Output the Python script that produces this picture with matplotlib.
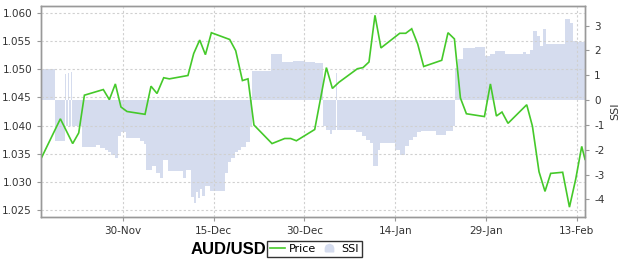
import matplotlib
matplotlib.use('Agg')
import matplotlib.pyplot as plt
import matplotlib.dates as mdates
import matplotlib.ticker as mticker
import pandas as pd
from matplotlib.lines import Line2D

plt.rcParams['axes.unicode_minus'] = False
plt.rcParams['font.family'] = ['DejaVu Sans']

# ---------------- data ----------------
price_dates = [
    '2012-11-16 10:50', '2012-11-19 15:40', '2012-11-21 16:30', '2012-11-22 16:30',
    '2012-11-23 15:00', '2012-11-26 18:00', '2012-11-27 18:00', '2012-11-28 17:45',
    '2012-11-29 16:00', '2012-11-30 16:00', '2012-12-03 15:30', '2012-12-04 15:10',
    '2012-12-05 15:00', '2012-12-06 17:30', '2012-12-07 16:00', '2012-12-10 17:45',
    '2012-12-11 16:30', '2012-12-12 16:20', '2012-12-13 15:00', '2012-12-14 14:40',
    '2012-12-17 15:20', '2012-12-18 15:10', '2012-12-19 17:45', '2012-12-20 15:50',
    '2012-12-21 15:30', '2012-12-24 15:10', '2012-12-26 17:30', '2012-12-27 17:15',
    '2012-12-28 15:50', '2012-12-31 16:30', '2013-01-02 14:50', '2013-01-03 14:40',
    '2013-01-04 16:50', '2013-01-07 17:45', '2013-01-08 16:05', '2013-01-09 15:50',
    '2013-01-10 15:35', '2013-01-11 15:20', '2013-01-14 17:45', '2013-01-15 17:30',
    '2013-01-16 17:15', '2013-01-17 17:00', '2013-01-18 16:50', '2013-01-21 16:20',
    '2013-01-22 17:15', '2013-01-23 18:40', '2013-01-24 18:30', '2013-01-25 18:15',
    '2013-01-28 17:45', '2013-01-29 17:30', '2013-01-30 17:15', '2013-01-31 15:20',
    '2013-02-01 15:20', '2013-02-04 17:30', '2013-02-05 16:05', '2013-02-06 18:15',
    '2013-02-07 18:00', '2013-02-08 16:30', '2013-02-10 16:05', '2013-02-11 19:00',
    '2013-02-12 19:55', '2013-02-13 19:40', '2013-02-14 08:40',
]
price_values = [
    1.0341, 1.0412, 1.0368, 1.0387, 1.0454, 1.0464, 1.0446, 1.0474,
    1.0433, 1.0425, 1.0420, 1.0470, 1.0457, 1.0485, 1.0483, 1.0489,
    1.0528, 1.0552, 1.0526, 1.0565, 1.0553, 1.0533, 1.0480, 1.0483,
    1.0401, 1.0368, 1.0377, 1.0377, 1.0373, 1.0393, 1.0503, 1.0466,
    1.0477, 1.0501, 1.0503, 1.0513, 1.0596, 1.0538, 1.0564, 1.0564,
    1.0572, 1.0545, 1.0505, 1.0516, 1.0565, 1.0554, 1.0449, 1.0421,
    1.0416, 1.0474, 1.0417, 1.0424, 1.0404, 1.0437, 1.0399, 1.0318,
    1.0283, 1.0315, 1.0317, 1.0255, 1.0305, 1.0363, 1.0340,
]

ssi_start = '2012-11-16 00:00'
ssi_days = [
    0.45, 2.71, 4.36, 4.48, 4.64, 4.98, 5.14, 5.36, 5.64, 7.29, 9.60, 10.15,
    10.98, 11.47, 12.08, 12.63, 13.17, 13.74, 14.56, 16.76, 17.42, 17.87, 18.74,
    19.40, 20.07, 20.61, 21.39, 23.87, 24.48, 25.31, 25.69, 26.02, 26.35, 26.68,
    27.01, 27.50, 28.33, 30.81, 31.36, 31.80, 32.46, 32.96, 33.57, 34.28, 34.94,
    35.27, 38.41, 40.35, 42.10, 44.03, 45.69, 47.06, 47.50, 48.17, 48.50, 49.16,
    49.44, 52.58, 53.45, 54.12, 54.78, 55.32, 56.15, 56.43, 58.91, 59.74, 60.56,
    61.22, 61.93, 62.55, 63.32, 65.80, 67.45, 68.55, 68.91, 69.37, 70.20, 72.13,
    73.79, 74.61, 75.44, 77.09, 80.12, 80.56, 81.22, 81.77, 82.38, 82.88, 83.42,
    83.98, 87.01, 87.83, 88.38, 89.21, 90.31,
]
ssi_values = [
    1.27, -1.66, -1.05, 1.04, -1.05, 1.10, -1.05, 1.12, -1.05, -1.89, -1.80, -1.95,
    -2.00, -2.10, -2.20, -2.33, -1.46, -1.30, -1.52, -1.65, -1.75, -2.80, -2.65,
    -2.95, -3.14, -2.40, -2.87, -3.13, -2.80, -3.90, -4.15, -3.70, -3.95, -3.60,
    -3.85, -3.48, -3.68, -2.93, -2.50, -2.35, -2.10, -2.00, -1.87, -1.70, -1.05,
    1.17, 1.85, 1.54, 1.58, 1.55, 1.50, -1.05, -1.20, -1.35, -1.19, 1.11,
    -1.19, -1.30, -1.45, -1.60, -1.73, -2.67, -2.00, -1.73, -2.00, -2.20, -1.85,
    -1.60, -1.50, -1.30, -1.25, -1.40, -1.25, -1.05, 1.30, 1.65, 2.08, 2.12,
    1.78, 1.85, 1.98, 1.85, 1.92, 1.85, 2.00, 2.80, 2.60, 2.19, 2.86,
    2.25, 3.27, 3.10, 2.39, 2.32, 2.32,
]

price_ticks = [1.025, 1.030, 1.035, 1.040, 1.045, 1.050, 1.055, 1.060]
ssi_ticks = [-4, -3, -2, -1, 0, 1, 2, 3]
date_ticks = ['2012-11-30', '2012-12-15', '2012-12-30', '2013-01-14', '2013-01-29', '2013-02-13']

title_text = 'AUD/USD'
series_names = ['Price', 'SSI']

# ---------------- style ----------------
green = '#45c92a'
fill = '#d5dcee'
tick_color = '#333333'
spine_color = '#999999'

pt = pd.to_datetime(price_dates)
st = pd.Timestamp(ssi_start) + pd.to_timedelta(ssi_days, unit='D')

fig = plt.figure(figsize=(6.25, 2.67), dpi=100)
ax = fig.add_axes([41 / 625, 1 - 217 / 267, 544 / 625, 211 / 267])
ax2 = ax.twinx()
ax.set_zorder(2)
ax.patch.set_visible(False)
ax2.set_zorder(1)

ax2.fill_between(st, 0, ssi_values, step='post', color=fill, linewidth=0)
ax2.set_ylim(-4.71, 3.79)
ax2.set_yticks(ssi_ticks)

ax.plot(pt, price_values, color=green, lw=1.2, solid_joinstyle='miter')
ax.set_ylim(1.02375, 1.06125)
ax.set_yticks(price_ticks)
ax.yaxis.set_major_formatter(mticker.FormatStrFormatter('%.3f'))
ax.set_xlim(pt[0], pt[-1])
ax.set_xticks(pd.to_datetime(date_ticks))
ax.xaxis.set_major_formatter(mdates.DateFormatter('%d-%b'))

ax.grid(True, color='#d0d0d0', linestyle=(0, (2, 2)), lw=0.8)

for a in (ax, ax2):
    for s in a.spines.values():
        s.set_color(spine_color)
        s.set_linewidth(1.0)
    a.tick_params(labelsize=7.5, colors=tick_color, length=3, width=0.8)
    a.tick_params(color=spine_color)

ax2.set_ylabel('SSI', fontsize=8, color=tick_color, labelpad=4)

fig.text(228 / 625, 1 - 249 / 267, title_text, fontweight='bold', fontsize=12,
         family=['Liberation Sans'], ha='center', va='center')

mound = [(-1, -0.8), (-1, 0.1), (-0.75, 0.7), (0, 1), (0.75, 0.7), (1, 0.1), (1, -0.8), (-1, -0.8)]
handles = [Line2D([], [], color=green, lw=1.2),
           Line2D([], [], color=fill, marker=mound, markersize=6, linestyle='none')]
leg = fig.legend(handles=handles, labels=series_names, loc='center',
                 bbox_to_anchor=(314.5 / 625, 1 - 249 / 267), ncol=2, frameon=True,
                 fancybox=False, edgecolor='black', fontsize=8, handlelength=1.3,
                 handletextpad=0.4, columnspacing=0.5, borderpad=0.3, borderaxespad=0)
leg.get_frame().set_linewidth(1.0)

fig.savefig('out.png', dpi=100)
